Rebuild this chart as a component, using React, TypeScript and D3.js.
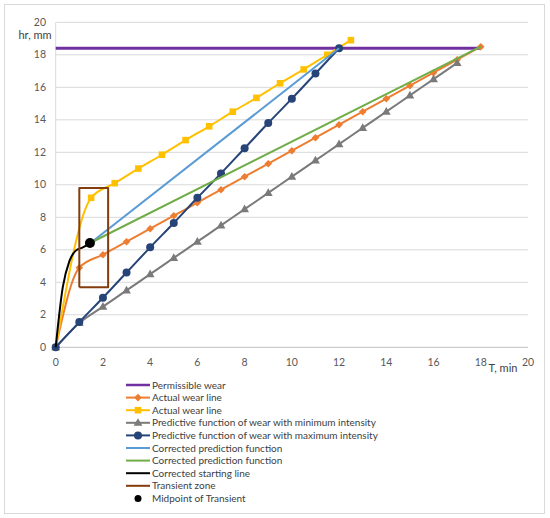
import { useEffect } from "react";
import * as d3 from "d3";

// Chart data
const permissibleT = [0, 18];
const permissibleH = [18.4, 18.4];

const actualT = [0, 1, 2, 3, 4, 5, 6, 7, 8, 9, 10, 11, 12, 13, 14, 15, 16, 17, 18];
const actualH = [0, 4.9, 5.7, 6.5, 7.3, 8.1, 8.9, 9.7, 10.5, 11.3, 12.1, 12.9, 13.7, 14.5, 15.3, 16.1, 16.9, 17.7, 18.5];

const actual2T = [0, 1.5, 2.5, 3.5, 4.5, 5.5, 6.5, 7.5, 8.5, 9.5, 10.5, 11.5, 12.5];
const actual2H = [0, 9.2, 10.1, 11.0, 11.85, 12.75, 13.6, 14.5, 15.35, 16.25, 17.1, 18.0, 18.9];

const minT = [0, 1, 2, 3, 4, 5, 6, 7, 8, 9, 10, 11, 12, 13, 14, 15, 16, 17];
const minH = [0, 1.5, 2.5, 3.5, 4.5, 5.5, 6.5, 7.5, 8.5, 9.5, 10.5, 11.5, 12.5, 13.5, 14.5, 15.5, 16.5, 17.5];

const maxT = [0, 1, 2, 3, 4, 5, 6, 7, 8, 9, 10, 11, 12];
const maxH = [0, 1.55, 3.05, 4.6, 6.15, 7.65, 9.2, 10.7, 12.25, 13.8, 15.3, 16.85, 18.4];

const corrBlueT = [1.5, 12];
const corrBlueH = [6.45, 18.4];

const corrGreenT = [1.5, 18];
const corrGreenH = [6.45, 18.5];

const startT = [0, 0.3, 0.58, 0.85, 1.15, 1.45];
const startH = [0, 3.7, 5.3, 5.95, 6.15, 6.4];

const transientT = [1.0, 2.22, 2.22, 1.0, 1.0];
const transientH = [3.7, 3.7, 9.8, 9.8, 3.7];

const midpointT = [1.45];
const midpointH = [6.42];

const xTicks = [0, 2, 4, 6, 8, 10, 12, 14, 16, 18, 20];
const yTicks = [0, 2, 4, 6, 8, 10, 12, 14, 16, 18, 20];

type Marker = "none" | "diamond" | "square" | "triangle" | "circle";

interface Series {
  name: string;
  t: number[];
  h: number[];
  color: string;
  width: number;
  marker: Marker;
  curved?: boolean;
}

const series: Series[] = [
  { name: "Permissible wear", t: permissibleT, h: permissibleH, color: "#7030a0", width: 3, marker: "none" },
  { name: "Actual wear line", t: actualT, h: actualH, color: "#ed7d31", width: 2, marker: "diamond" },
  { name: "Actual wear line", t: actual2T, h: actual2H, color: "#ffc000", width: 2, marker: "square" },
  { name: "Predictive function of wear with minimum intensity", t: minT, h: minH, color: "#7a7a7a", width: 2, marker: "triangle" },
  { name: "Predictive function of wear with maximum intensity", t: maxT, h: maxH, color: "#264478", width: 2, marker: "circle" },
  { name: "Corrected prediction function", t: corrBlueT, h: corrBlueH, color: "#5b9bd5", width: 2, marker: "none" },
  { name: "Corrected prediction function", t: corrGreenT, h: corrGreenH, color: "#70ad47", width: 2, marker: "none" },
  { name: "Corrected starting line", t: startT, h: startH, color: "#000000", width: 2, marker: "none", curved: true },
  { name: "Transient zone", t: transientT, h: transientH, color: "#843c0c", width: 2, marker: "none" },
];

const FONT = "Lato, 'Open Sans', sans-serif";

function markerPath(m: Marker, s: number): string {
  if (m === "diamond") return `M0,${-s}L${s},0L0,${s}L${-s},0Z`;
  if (m === "square") return `M${-s},${-s}H${s}V${s}H${-s}Z`;
  if (m === "triangle") return `M0,${-s * 1.15}L${s * 1.1},${s * 0.75}L${-s * 1.1},${s * 0.75}Z`;
  return "";
}

function MarkerShape({ m, x, y, color }: { m: Marker; x: number; y: number; color: string }) {
  if (m === "none") return null;
  if (m === "circle") return <circle cx={x} cy={y} r={4} fill={color} />;
  const s = m === "square" ? 3.3 : m === "diamond" ? 3.8 : 4;
  return <path d={markerPath(m, s)} transform={`translate(${x},${y})`} fill={color} />;
}

export default function App() {
  useEffect(() => {
    document.body.style.margin = "0";
  }, []);

  const width = 550;
  const height = 518;
  const x = d3.scaleLinear().domain([0, 20]).range([55.7, 528]);
  const y = d3.scaleLinear().domain([0, 20]).range([347.3, 22.3]);

  const straight = d3
    .line<[number, number]>()
    .x((d) => x(d[0]))
    .y((d) => y(d[1]));
  const smooth = straight.curve(d3.curveMonotoneX);

  const legendTop = 385;
  const legendStep = 12.6;

  return (
    <svg width={width} height={height} style={{ display: "block" }}>
      <rect x={0} y={0} width={width} height={height} fill="#ffffff" />
      <rect x={4.5} y={4.5} width={540} height={509} fill="none" stroke="#d9d9d9" strokeWidth={1} />

      {/* Gridlines */}
      {yTicks.map((v) => (
        <line key={`g${v}`} x1={x(0)} x2={x(20)} y1={y(v)} y2={y(v)} stroke={v === 0 ? "#bfbfbf" : "#d9d9d9"} strokeWidth={1} />
      ))}
      <line x1={x(0)} x2={x(0)} y1={y(0)} y2={y(20)} stroke="#d9d9d9" strokeWidth={1} />

      {/* Tick labels */}
      {yTicks.map((v) => (
        <text key={`yl${v}`} x={46} y={y(v)} dy="0.35em" textAnchor="end" fontFamily={FONT} fontSize={10.5} fill="#595959">
          {v}
        </text>
      ))}
      {xTicks.map((v) => (
        <text key={`xl${v}`} x={x(v)} y={362} dy="0.35em" textAnchor="middle" fontFamily={FONT} fontSize={10.5} fill="#595959">
          {v}
        </text>
      ))}
      <text x={35} y={35} dy="0.35em" textAnchor="middle" fontFamily={FONT} fontSize={11} fill="#404040">
        hr, mm
      </text>
      <text x={503} y={368} dy="0.35em" textAnchor="middle" fontFamily={FONT} fontSize={11} fill="#404040">
        T, min
      </text>

      {/* Series */}
      {series.map((s, i) => {
        const pts = s.t.map((t, k) => [t, s.h[k]] as [number, number]);
        return (
          <g key={`s${i}`}>
            <path d={(s.curved ? smooth : straight)(pts) ?? ""} fill="none" stroke={s.color} strokeWidth={s.width} strokeLinejoin="round" />
            {pts.map((p, k) => (
              <MarkerShape key={k} m={s.marker} x={x(p[0])} y={y(p[1])} color={s.color} />
            ))}
          </g>
        );
      })}
      {midpointT.map((t, k) => (
        <circle key={`m${k}`} cx={x(t)} cy={y(midpointH[k])} r={5} fill="#000000" />
      ))}

      {/* Legend */}
      {series.map((s, i) => {
        const ly = legendTop + i * legendStep;
        return (
          <g key={`l${i}`}>
            <line x1={126} x2={150} y1={ly} y2={ly} stroke={s.color} strokeWidth={s.width === 3 ? 2.5 : 2} />
            <MarkerShape m={s.marker} x={138} y={ly} color={s.color} />
            <text x={152} y={ly} dy="0.35em" fontFamily={FONT} fontSize={10} fill="#404040">
              {s.name}
            </text>
          </g>
        );
      })}
      <circle cx={138} cy={legendTop + 9 * legendStep} r={3.5} fill="#000000" />
      <text x={152} y={legendTop + 9 * legendStep} dy="0.35em" fontFamily={FONT} fontSize={10} fill="#404040">
        Midpoint of Transient
      </text>
    </svg>
  );
}
